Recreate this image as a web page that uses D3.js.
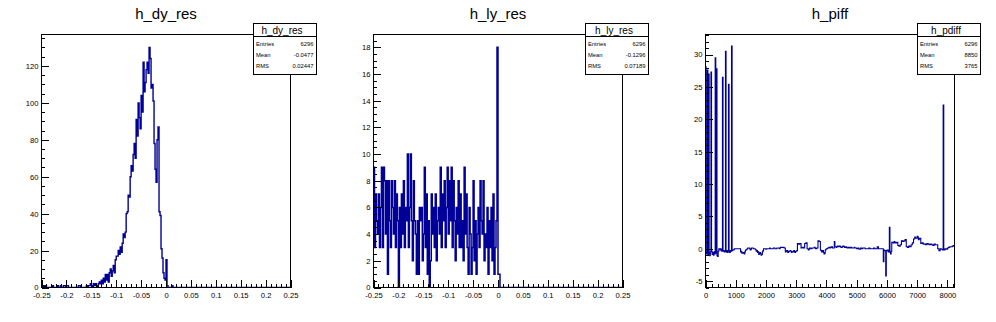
<!DOCTYPE html>
<html><head><meta charset="utf-8">
<script src="https://cdn.jsdelivr.net/npm/d3@7"></script>
<style>
body{margin:0;background:#fff}
svg{display:block}
text{font-family:"Liberation Sans",Arial,Helvetica,sans-serif;fill:#000}
</style>
</head><body><svg id="c" width="996" height="322"></svg>
<script>
// ---------------- data ----------------
const titles = ["h_dy_res", "h_ly_res", "h_piff"];
const statNames = ["h_dy_res", "h_ly_res", "h_pdiff"];
const statLabels = ["Entries", "Mean", "RMS"];
const statValues = [["6296", "-0.0477", "0.02447"], ["6296", "-0.1296", "0.07189"], ["6296", "8850", "3765"]];

const dyBinStart = -0.25, dyBinWidth = 0.002;
const dyValues = [
  0,0,1,0,1,0,0,0,0,0,
  0,1,0,0,0,0,1,0,0,1,
  0,0,1,1,0,1,1,0,0,0,
  0,0,0,0,0,0,0,1,1,0,
  0,0,0,0,0,1,0,1,1,2,
  1,0,2,1,2,1,0,2,3,2,
  4,2,5,3,7,4,
  7,3,8,10,6,9,12,8,15,17,
  17,20,18,22,19,24,29,27,30,40,
  41,50,49,60,66,63,72,78,70,91,
  82,100,92,86,104,95,122,106,111,118,
  122,116,130,124,108,110,101,78,64,57,
  80,87,41,39,21,16,8,5,4,15,
  1,0,0,0,0,1,0,0,0,0
];

const lyBinStart = -0.25, lyBinWidth = 0.002;
const lyValues = [
  9,3,7,5,4,7,3,6,9,3,
  9,8,4,8,1,8,5,3,8,6,
  4,8,3,7,5,0,6,3,7,4,
  8,3,6,5,10,3,6,10,5,2,
  8,5,4,1,5,1,6,5,6,2,
  4,9,3,7,1,5,0,2,7,4,
  6,3,7,2,5,6,4,9,3,7,
  5,8,3,6,9,4,8,5,9,3,
  8,5,2,6,4,8,3,7,3,5,
  2,9,4,7,3,1,6,4,1,3,
  8,2,5,1,4,6,3,8,5,4,
  8,2,4,3,6,1,5,3,6,2,
  7,1,3,5,18,1,1,0
];

const pdiffBinStart = 0, pdiffBinWidth = 20;
const pdiffValues = [
  28.1,-0.8,-0.6,27.6,-1.0,27.0,-0.7,-1.1,-0.5,27.3,
  -0.4,-0.9,-0.6,-1.0,-0.5,-0.8,29.5,-0.7,27.8,-1.1,
  -1.2,-0.4,0,0,-0.2,0,-0.3,-0.4,26.5,-0.4,
  -0.3,-0.5,-0.4,30.5,-0.5,-0.3,-0.6,-0.3,25.4,-0.5,
  -0.6,-0.3,-0.4,31.3,-0.3,-0.2,-0.2,-0.1,0,0,
  0,0,0,0,0,0,0,0,-0.5,-0.4,-0.7,-0.6,-0.6,-0.7,-0.8,-0.5,
  -0.2,-0.2,-0.1,0.0,0.1,0.1,0.1,0.0,-0.2,-0.1,0.1,0.1,0.1,0.0,0.0,0.0,-0.1,-0.2,-0.4,-0.3,
  -0.6,-0.5,-0.9,-0.7,-0.6,-0.8,-1.0,-0.9,-0.5,-0.3,
  0.0,0.0,0.0,0.0,-0.1,0.0,0.0,0.0,0.0,0.0,0.1,0.0,0.0,0.0,0.0,0.0,0.1,0.1,0.1,0.0,0.0,0.0,0.1,0.1,0.1,0.1,0.0,0.1,
  0.2,0.2,0.2,0.2,0.2,0.2,0.1,0.1,
  -0.5,-0.4,-0.3,-0.3,-0.6,-0.5,-0.4,-0.4,-0.3,-0.4,-0.6,-0.5,-0.5,-0.4,-0.3,-0.5,-0.6,-0.4,-0.4,-0.3,
  0.8,0.8,0.7,0.7,0.8,0.8,
  0.1,0.1,0.2,0.2,0.1,0.1,
  0.8,0.8,0.9,0.9,
  0.0,0.0,-0.2,-0.1,0.1,0.1,0.0,0.0,0.1,0.1,0.1,0.1,0.2,0.1,0.0,0.0,0.1,0.1,
  1.2,1.2,1.1,1.1,
  -0.2,-0.3,-0.5,-0.4,-0.3,-0.6,-0.8,-0.7,-0.2,-0.1,0.0,0.0,
  0.1,0.1,0.2,0.2,0.1,0.2,0.3,0.3,0.1,0.1,
  0.1,1.1,
  0.3,0.3,0.2,0.3,0.4,0.3,0.3,0.4,0.4,0.3,0.2,0.2,0.3,0.4,0.4,0.3,0.2,0.2,0.3,0.2,0.1,0.1,0.2,0.2,0.1,0.1,
  0.2,0.2,0.1,0.1,0.1,0.1,0.2,0.1,0.1,0.1,0.0,0.0,0.1,0.0,-0.1,-0.1,0.1,0.1,0.0,0.0,0.1,0.1,
  0.1,0.1,0.0,0.0,0.0,0.0,0.0,0.0,0.1,0.1,0.0,0.0,0.0,0.0,0.0,0.0,0.1,0.1,0.0,0.0,0.0,0.0,
  0.3,0.3,
  0,0,0,0,0,0,0,0,
  -2.0,-0.2,-0.3,-0.3,-4.2,-0.3,-0.2,-0.2,-0.5,-0.3,3.3,-0.6,-0.8,-0.4,
  1.0,1.0,0.9,0.9,1.1,1.0,0.9,0.9,1.0,1.0,
  0.5,0.5,0.4,0.4,0.6,0.6,
  1.2,1.2,1.1,1.1,1.2,1.2,1.4,1.4,
  0.3,0.3,0.2,0.2,0.4,0.4,0.3,0.3,0.6,0.6,0.9,0.9,
  1.5,1.5,1.8,1.7,1.6,1.6,1.9,1.8,1.4,1.5,1.6,1.6,
  0.8,0.8,0.9,0.9,0.7,0.7,
  0.7,0.7,0.6,0.6,0.8,0.8,0.7,0.7,0.6,0.6,0.7,0.7,0.6,0.6,0.5,0.5,0.7,0.7,0.6,0.6,0.6,0.6,
  0.0,0.0,-0.3,-0.3,0.0,0.0,-0.1,-0.1,
  -0.2,22.2,
  -0.2,-0.2,0.0,0.0,-0.1,-0.1,0.1,0.1,0.2,0.2,0.3,0.3,0.3,0.3,0.4,0.4,0.5,0.5
];

const xDomains = [[-0.25, 0.25], [-0.25, 0.25], [0, 8235]];
const yDomains = [[0, 137], [0, 18.95], [-6.0, 33.1]];
const xMajorTicks = [
  [-0.25,-0.2,-0.15,-0.1,-0.05,0,0.05,0.1,0.15,0.2,0.25],
  [-0.25,-0.2,-0.15,-0.1,-0.05,0,0.05,0.1,0.15,0.2,0.25],
  [0,1000,2000,3000,4000,5000,6000,7000,8000]
];
const xTickLabels = [
  ["-0.25","-0.2","-0.15","-0.1","-0.05","0","0.05","0.1","0.15","0.2","0.25"],
  ["-0.25","-0.2","-0.15","-0.1","-0.05","0","0.05","0.1","0.15","0.2","0.25"],
  ["0","1000","2000","3000","4000","5000","6000","7000","8000"]
];
const yMajorTicks = [
  [0,20,40,60,80,100,120],
  [0,2,4,6,8,10,12,14,16,18],
  [-5,0,5,10,15,20,25,30]
];
const yTickLabels = [
  ["0","20","40","60","80","100","120"],
  ["0","2","4","6","8","10","12","14","16","18"],
  ["-5","0","5","10","15","20","25","30"]
];
const xMinorSteps = [0.01, 0.01, 200];
const yMinorSteps = [5, 0.5, 1];

// ---------------- layout ----------------
const padW = 332;
const fL = 41.5, fR = 290.5, fT = 34.5, fB = 287.5;
const majorLen = 7.5, minorLen = 3.8;
const lineColor = "#000099";
const strokeW = [1.4, 1.5, 1.1];

const svg = d3.select("#c");
const hists = [
  {start: dyBinStart, w: dyBinWidth, v: dyValues},
  {start: lyBinStart, w: lyBinWidth, v: lyValues},
  {start: pdiffBinStart, w: pdiffBinWidth, v: pdiffValues}
];

function minorTicks(dom, step) {
  const out = [];
  const n0 = Math.ceil(dom[0] / step - 1e-9), n1 = Math.floor(dom[1] / step + 1e-9);
  for (let k = n0; k <= n1; k++) out.push(+(k * step).toFixed(6));
  return out;
}

for (let p = 0; p < 3; p++) {
  const g = svg.append("g").attr("transform", `translate(${p * padW},0)`);
  const x = d3.scaleLinear().domain(xDomains[p]).range([fL, fR]);
  const y = d3.scaleLinear().domain(yDomains[p]).range([fB, fT]);

  // title
  g.append("text").attr("x", 166).attr("y", 18.5).attr("text-anchor", "middle")
    .style("font-size", "15px").text(titles[p]);

  // clip
  const cid = "clip" + p;
  g.append("clipPath").attr("id", cid).append("rect")
    .attr("x", fL).attr("y", fT).attr("width", fR - fL).attr("height", fB - fT);

  // histogram step path
  const h = hists[p];
  const path = d3.path();
  path.moveTo(x(h.start), y(h.v[0]));
  for (let i = 0; i < h.v.length; i++) {
    const hi = h.start + (i + 1) * h.w;
    path.lineTo(x(hi), y(h.v[i]));
    if (i + 1 < h.v.length) path.lineTo(x(hi), y(h.v[i + 1]));
  }
  const lastEdge = h.start + h.v.length * h.w;
  if (lastEdge < xDomains[p][1]) {
    path.lineTo(x(lastEdge), y(0));
    path.lineTo(x(xDomains[p][1]), y(0));
  }
  g.append("path").attr("d", path.toString()).attr("fill", "none")
    .attr("stroke", lineColor).attr("stroke-width", strokeW[p])
    .attr("stroke-linejoin", "miter")
    .attr("clip-path", `url(#${cid})`);

  // x axis minor
  g.append("g").attr("transform", `translate(0,${fB})`)
    .call(d3.axisBottom(x).tickValues(minorTicks(xDomains[p], xMinorSteps[p]))
      .tickSize(-minorLen).tickSizeOuter(0).tickFormat(""))
    .call(s => s.select(".domain").remove());
  // x axis major
  g.append("g").attr("transform", `translate(0,${fB})`)
    .call(d3.axisBottom(x).tickValues(xMajorTicks[p]).tickSize(-majorLen).tickSizeOuter(0)
      .tickPadding(5).tickFormat((d, i) => xTickLabels[p][i]))
    .call(s => s.select(".domain").remove())
    .call(s => s.selectAll("text").style("font-size", "7.6px").attr("font-family", null));
  // y axis minor
  g.append("g").attr("transform", `translate(${fL},0)`)
    .call(d3.axisLeft(y).tickValues(minorTicks(yDomains[p], yMinorSteps[p]))
      .tickSize(-minorLen).tickSizeOuter(0).tickFormat(""))
    .call(s => s.select(".domain").remove());
  // y axis major
  g.append("g").attr("transform", `translate(${fL},0)`)
    .call(d3.axisLeft(y).tickValues(yMajorTicks[p]).tickSize(-majorLen).tickSizeOuter(0)
      .tickPadding(3).tickFormat((d, i) => yTickLabels[p][i]))
    .call(s => s.select(".domain").remove())
    .call(s => s.selectAll("text").style("font-size", "7.6px").attr("font-family", null));
  g.selectAll(".tick line").attr("stroke", "#000").attr("shape-rendering", "crispEdges");

  // frame
  g.append("rect").attr("x", fL).attr("y", fT).attr("width", fR - fL).attr("height", fB - fT)
    .attr("fill", "none").attr("stroke", "#000").attr("stroke-width", 1)
    .attr("shape-rendering", "crispEdges");

  // stats box
  const bx = 253.5, by = 23.5, bw = 62.5, bh = 51, hdr = 13;
  const sb = g.append("g");
  sb.append("rect").attr("x", bx).attr("y", by).attr("width", bw).attr("height", bh)
    .attr("fill", "#fff").attr("stroke", "#000").attr("shape-rendering", "crispEdges");
  sb.append("line").attr("x1", bx).attr("x2", bx + bw).attr("y1", by + hdr).attr("y2", by + hdr)
    .attr("stroke", "#000").attr("shape-rendering", "crispEdges");
  sb.append("text").attr("x", bx + 28.5).attr("y", by + 10).attr("text-anchor", "middle")
    .style("font-size", "10px").text(statNames[p]);
  const rowY = [46, 57.3, 67.7];
  statLabels.forEach((lab, i) => {
    sb.append("text").attr("x", bx + 2.5).attr("y", rowY[i]).style("font-size", "5.8px").text(lab);
    sb.append("text").attr("x", bx + bw - 2.5).attr("y", rowY[i]).attr("text-anchor", "end")
      .style("font-size", "5.8px").text(statValues[p][i]);
  });
}
</script>
</body></html>
